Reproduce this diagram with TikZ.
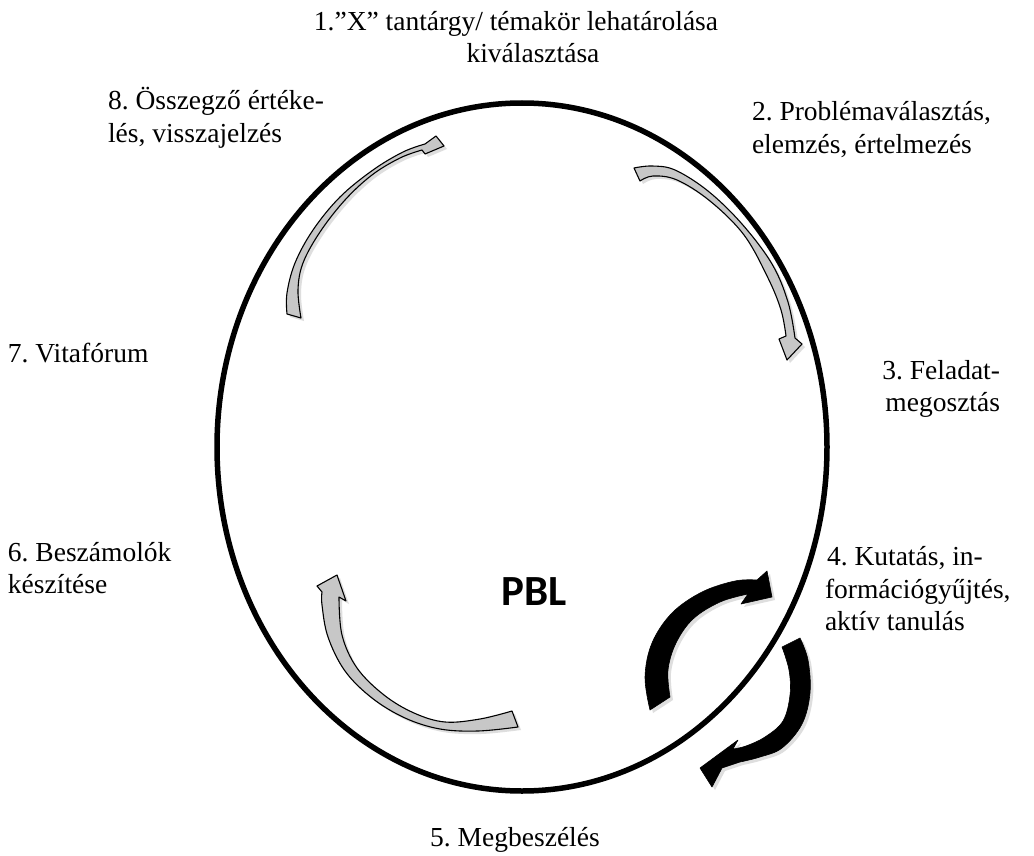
\documentclass[tikz,border=0pt]{standalone}
\usepackage{fontspec}
\setmainfont{Liberation Serif}
\newfontfamily\pblfont{Carlito}
\usetikzlibrary{shapes.geometric}
\frenchspacing
\begin{document}
\begin{tikzpicture}[x=1pt,y=-1pt,
  lbl/.style={font=\fontsize{27.5}{32}\selectfont, inner sep=0pt, outer sep=0pt},
  shad/.style={preaction={fill=black!13, transform canvas={shift={(3pt,-3pt)}}}},
  garrow/.style={shad, fill=black!22, draw=black, line width=1.1pt, line join=round},
  barrow/.style={shad, fill=black, draw=black, line width=0.6pt, line join=round},
  cyclebox/.style={ellipse, draw, line width=5.5pt, inner sep=0pt, minimum width=610pt, minimum height=688pt}]
\useasboundingbox (0,0) rectangle (1034,856);
\fill[white] (0,0) rectangle (1034,856);

% main ellipse
\node[cyclebox] (cyc) at (522,447) {};
\node[font=\pblfont\bfseries\fontsize{43}{50}\selectfont, inner sep=0pt] (pbl) at (534,592) {PBL};

% grey arrow 8 -> 1
\filldraw[garrow] plot[smooth, tension=0.6] coordinates {(287,314) (287,293) (295,263) (313,230) (340,197) (373,170) (403,152) (425,144)}
  -- (436,136) -- (444,146) -- (425,154)
  -- plot[smooth, tension=0.6] coordinates {(422,150) (400,158) (372,175) (345,200) (320,232) (303,263) (298,290) (301,318)} -- cycle;

% grey arrow 2 -> 3
\filldraw[garrow] plot[smooth, tension=0.6] coordinates {(634,168) (652,166) (675,170) (708,191) (742,224) (772,264) (788,302) (795,338)}
  -- (802,344) -- (787,360) -- (779,339)
  -- plot[smooth, tension=0.6] coordinates {(786,336) (781,310) (768,278) (744,235) (710,201) (677,180) (653,176) (640,181)} -- cycle;

% grey arrow 5 -> 6
\filldraw[garrow] plot[smooth, tension=0.6] coordinates {(518,727) (478,731) (440,729) (405,718) (372,698) (345,671) (328,637) (322,605) (322,592)}
  -- (317,586) -- (337,575) -- (346,601)
  -- plot[smooth, tension=0.6] coordinates {(339,597) (342,635) (357,668) (384,695) (414,713) (445,722) (480,719) (512,711)} -- cycle;

% black arrow (upper)
\filldraw[barrow] plot[smooth, tension=0.6] coordinates {(650,710) (645,677) (652,643) (672,613) (702,592) (735,581) (757,580)}
  -- (767,571) -- (772,597) -- (741,604)
  -- plot[smooth, tension=0.6] coordinates {(748,594) (720,602) (693,619) (676,643) (668,670) (670,697)} -- cycle;

% black arrow (lower)
\filldraw[barrow] (738,740) -- (700,768) -- (712,787) -- (722,768)
  -- plot[smooth, tension=0.6] coordinates {(740,762) (760,757) (782,748) (802,724) (810,693) (808,660) (800,638)}
  -- plot[smooth, tension=0.6] coordinates {(782,647) (789,670) (790,695) (783,721) (765,737) (746,746) (733,749)} -- cycle;

% labels
\node[lbl, anchor=base] (t1a) at (516,31) {1.”X” tantárgy/ témakör lehatárolása};
\node[lbl, anchor=base] (t1b) at (533,63) {kiválasztása};
\node[lbl, anchor=base west] (t8a) at (108,110) {8. Összegző értéke-};
\node[lbl, anchor=base west] (t8b) at (108,143) {lés, visszajelzés};
\node[lbl, anchor=base west] (t2a) at (752,121) {2. Problémaválasztás,};
\node[lbl, anchor=base west] (t2b) at (752,154) {elemzés, értelmezés};
\node[lbl, anchor=base west] (t7) at (8,362) {7. Vitafórum};
\node[lbl, anchor=base east] (t3a) at (1000,379) {3. Feladat-};
\node[lbl, anchor=base east] (t3b) at (1000,411) {megosztás};
\node[lbl, anchor=base west] (t6a) at (8,561) {6. Beszámolók};
\node[lbl, anchor=base west] (t6b) at (8,593) {készítése};
\node[lbl, anchor=base west] (t4a) at (827,565) {4. Kutatás, in-};
\node[lbl, anchor=base west] (t4b) at (825,598) {formációgyűjtés,};
\node[lbl, anchor=base west] (t4c) at (825,630) {aktív tanulás};
\node[lbl, anchor=base] (t5) at (515,846) {5. Megbeszélés};
\end{tikzpicture}
\end{document}
